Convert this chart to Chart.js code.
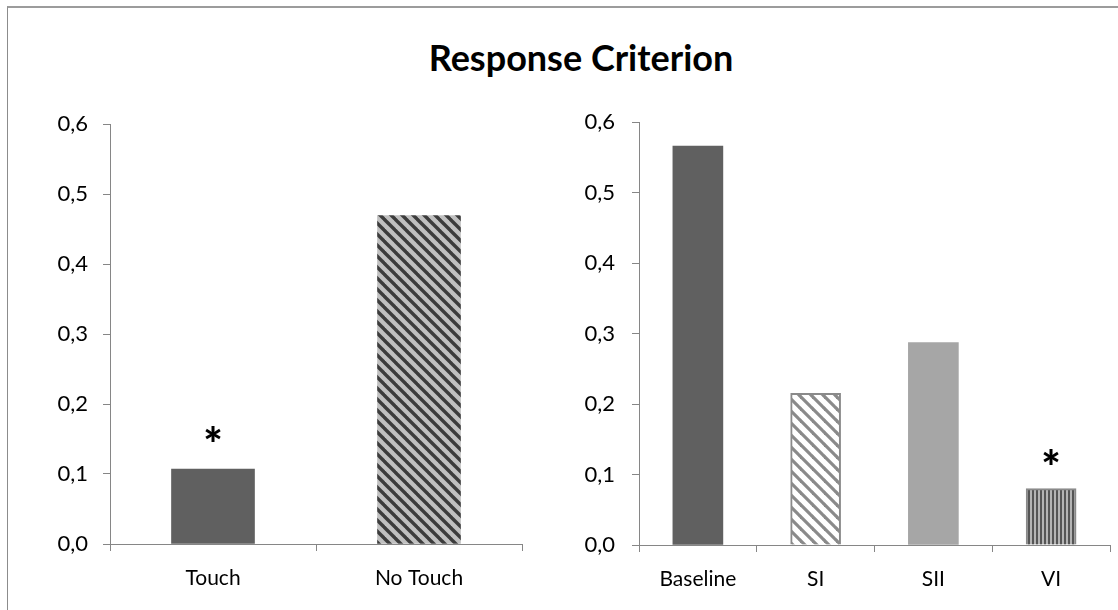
<!DOCTYPE html>
<html>
<head>
<meta charset="utf-8">
<script src="https://cdn.jsdelivr.net/npm/chart.js@4.4.1/dist/chart.umd.min.js"></script>
<style>
  html, body { margin: 0; padding: 0; background: #ffffff; }
  #frame { position: relative; width: 1118px; height: 610px; overflow: hidden; background: #fff; }
  #border { position: absolute; left: 7px; top: 6px; width: 1200px; height: 700px;
            border-left: 1px solid #8c8c8c; border-top: 2px solid #9c9c9c; }
  #title { position: absolute; left: 0; width: 1162px; top: 35px; text-align: center;
           font-family: Lato, "Noto Sans", sans-serif; font-weight: bold; font-size: 36px; color: #000; }
  .box { position: absolute; top: 0; height: 610px; }
  #leftBox { left: 0; width: 560px; }
  #rightBox { left: 560px; width: 558px; }
</style>
</head>
<body>
<div id="frame">
  <div id="border"></div>
  <div id="title">Response Criterion</div>
  <div class="box" id="leftBox"><canvas id="leftChart" width="560" height="610"></canvas></div>
  <div class="box" id="rightBox"><canvas id="rightChart" width="558" height="610"></canvas></div>
</div>
<script>
// Touch condition panel
const touchCategories = ['Touch', 'No Touch'];
const touchValues = [0.107, 0.469];
const touchSignificant = [true, false];

// Stimulation condition panel
const stimCategories = ['Baseline', 'SI', 'SII', 'VI'];
const stimValues = [0.566, 0.215, 0.287, 0.08];
const stimSignificant = [false, false, false, true];

// Shared value axis
const yTickLabels = ['0,0', '0,1', '0,2', '0,3', '0,4', '0,5', '0,6'];

const FONT = 'Lato, "Noto Sans", sans-serif';
const AXIS_GREY = '#868686';

function diagonalPattern(bg, fg, period, lw) {
  const c = document.createElement('canvas');
  c.width = period; c.height = period;
  const g = c.getContext('2d');
  g.fillStyle = bg; g.fillRect(0, 0, period, period);
  g.strokeStyle = fg; g.lineWidth = lw;
  for (let k = -1; k <= 1; k++) {
    g.beginPath();
    g.moveTo(k * period - 1, -1);
    g.lineTo(k * period + period + 1, period + 1);
    g.stroke();
  }
  return g.createPattern(c, 'repeat');
}

function verticalPattern(dark, light) {
  const c = document.createElement('canvas');
  c.width = 4; c.height = 4;
  const g = c.getContext('2d');
  g.fillStyle = light; g.fillRect(0, 0, 4, 4);
  g.fillStyle = dark; g.fillRect(0, 0, 2, 4);
  return g.createPattern(c, 'repeat');
}

const fills = {
  solidDark: '#606060',
  solidLight: '#a6a6a6',
  denseDiag: diagonalPattern('#c0c0c0', '#3c3c3c', 11, 3.4),
  lightDiag: diagonalPattern('#ffffff', '#8a8a8a', 12, 3.2),
  vertical: verticalPattern('#555555', '#b4b4b4')
};

// Star marks above significant bars
const starPlugin = {
  id: 'stars',
  afterDatasetsDraw(chart, args, opts) {
    const ctx = chart.ctx;
    ctx.save();
    ctx.font = '900 46px ' + FONT;
    ctx.fillStyle = '#000';
    ctx.textAlign = 'center';
    ctx.textBaseline = 'alphabetic';
    opts.flags.forEach((flag, i) => {
      if (!flag) return;
      const x = chart.scales.x.getPixelForValue(i);
      const y = chart.scales.y.getPixelForValue(opts.values[i]);
      ctx.fillText('*', x, y - opts.gap);
    });
    ctx.restore();
  }
};

function buildChart(canvasId, categories, values, flags, styles, geom) {
  const datasets = categories.map((cat, i) => ({
    label: cat,
    data: values.map((v, j) => (j === i ? v : null)),
    backgroundColor: styles[i].fill,
    borderColor: styles[i].border || styles[i].fill,
    borderWidth: styles[i].border ? 2 : 0,
    barThickness: geom.barWidth,
    grouped: false
  }));
  return new Chart(document.getElementById(canvasId), {
    type: 'bar',
    data: { labels: categories, datasets },
    plugins: [starPlugin],
    options: {
      responsive: false,
      animation: false,
      events: [],
      layout: { padding: { left: 0, top: geom.top, right: geom.right, bottom: geom.bottom } },
      plugins: {
        legend: { display: false },
        tooltip: { enabled: false },
        title: { display: false },
        stars: { flags, values, gap: geom.starGap }
      },
      scales: {
        x: {
          afterFit(s) { s.height = 50; },
          grid: { offset: true, drawOnChartArea: false, drawTicks: true, tickLength: 7, color: AXIS_GREY, lineWidth: 1 },
          border: { display: true, color: AXIS_GREY, width: 1 },
          ticks: { color: '#000', font: { family: FONT, size: 21 }, padding: 15, maxRotation: 0 }
        },
        y: {
          min: 0, max: 0.6,
          afterFit(s) { s.width = geom.left; },
          afterBuildTicks(s) { s.ticks = yTickLabels.map((_, i) => ({ value: i / 10 })); },
          grid: { drawOnChartArea: false, drawTicks: true, tickLength: 7, color: AXIS_GREY, lineWidth: 1 },
          border: { display: true, color: AXIS_GREY, width: 1 },
          ticks: {
            color: '#000', font: { family: FONT, size: 22 }, padding: geom.labelPad,
            callback: (v, i) => yTickLabels[i]
          }
        }
      }
    }
  });
}

buildChart('leftChart', touchCategories, touchValues, touchSignificant,
  [{ fill: fills.solidDark }, { fill: fills.denseDiag }],
  { left: 110, top: 124, right: 38, bottom: 16, barWidth: 83, labelPad: 15, starGap: 8 });

buildChart('rightChart', stimCategories, stimValues, stimSignificant,
  [{ fill: fills.solidDark }, { fill: fills.lightDiag, border: '#8a8a8a' },
   { fill: fills.solidLight }, { fill: fills.vertical, border: '#8a8a8a' }],
  { left: 79, top: 122, right: 8, bottom: 15, barWidth: 50, labelPad: 17, starGap: 5 });
</script>
</body>
</html>
